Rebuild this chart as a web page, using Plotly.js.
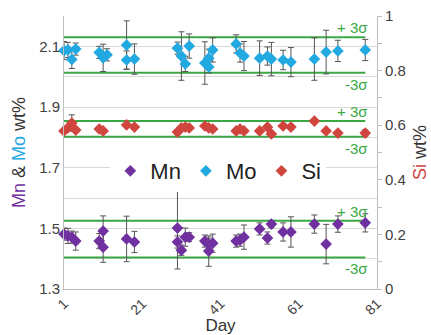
<!DOCTYPE html>
<html>
<head>
<meta charset="utf-8">
<script src="https://cdn.plot.ly/plotly-3.0.1.min.js"></script>
<style>html,body{margin:0;padding:0;background:#fff}#chart{width:431px;height:335px}</style>
</head>
<body>
<div id="chart"></div>
<script>
// Mn (left axis, wt%)
const mnDay = [1,2,3,4,10,11,11,17,19,30,30,31,32,33,37,38,38,39,45,46,47,51,53,54,57,59,65,68,71,78];
const mnVal = [1.481,1.475,1.471,1.458,1.458,1.491,1.438,1.465,1.455,1.501,1.455,1.428,1.471,1.471,1.458,1.448,1.425,1.451,1.458,1.461,1.471,1.498,1.468,1.514,1.488,1.488,1.514,1.448,1.514,1.518];
const mnErr = [0.02,0.025,0.02,0.03,0.025,0.05,0.05,0.075,0.035,0.135,0.02,0.017,0.03,0.015,0.02,0.02,0.05,0.03,0.02,0.02,0.04,0.02,0.02,0.012,0.03,0.05,0.03,0.065,0.027,0.03];
// Mo (left axis, wt%)
const moDay = [1,2,3,4,10,11,12,17,17,19,30,31,32,33,37,38,38,39,45,46,47,51,53,54,57,59,65,68,71,78];
const moVal = [2.086,2.088,2.057,2.091,2.080,2.062,2.072,2.104,2.055,2.058,2.094,2.068,2.042,2.101,2.045,2.032,2.061,2.088,2.108,2.078,2.068,2.061,2.068,2.058,2.055,2.048,2.058,2.081,2.085,2.088];
const moErr = [0.03,0.025,0.03,0.02,0.02,0.045,0.02,0.08,0.03,0.05,0.02,0.08,0.025,0.04,0.07,0.02,0.03,0.04,0.03,0.03,0.048,0.057,0.03,0.055,0.032,0.048,0.07,0.072,0.035,0.035];
// Si (right axis, wt%)
const siDay = [1,2,3,4,10,11,17,19,30,31,32,33,37,38,39,45,46,47,51,53,54,57,59,65,68,71,78];
const siVal = [0.579,0.590,0.608,0.582,0.586,0.579,0.601,0.593,0.575,0.590,0.593,0.590,0.597,0.590,0.586,0.579,0.586,0.579,0.579,0.593,0.568,0.597,0.593,0.615,0.579,0.571,0.571];
const siErr = [0.005,0.005,0.03,0.005,0.005,0.005,0.006,0.005,0.005,0.005,0.005,0.005,0.005,0.005,0.005,0.005,0.005,0.005,0.005,0.005,0.005,0.005,0.005,0.006,0.005,0.005,0.012];
// control limits (+3σ / -3σ)
const limitDays = [1, 78];
const moLimits = [2.130, 2.013];
const siLimits = [0.615, 0.558];
const mnLimits = [1.525, 1.404];
const limitLabels = ['+ 3σ', '-3σ'];
// axis ticks
const dayTicks = [1, 21, 41, 61, 81];
const leftTickVals = [1.3,1.4,1.5,1.6,1.7,1.8,1.9,2.0,2.1,2.2];
const leftTickText = ['1.3','','1.5','','1.7','','1.9','','2.1',''];
const rightTickVals = [0,0.1,0.2,0.3,0.4,0.5,0.6,0.7,0.8,0.9,1];
const rightTickText = ['0','','0.2','','0.4','','0.6','','0.8','','1'];

const C_MN = '#7030a0', C_MO = '#22a9e1', C_SI = '#d0463f', C_G = '#3aa845';
const FONT = 'Liberation Sans, Arial, sans-serif';

function pts(name, x, y, e, color, yaxis) {
  return {type:'scatter', mode:'markers', name:name, x:x, y:y, yaxis:yaxis, cliponaxis:false,
    marker:{symbol:'diamond', size:9, color:color},
    error_y:{type:'data', array:e, visible:true, color:'#555555', thickness:1, width:3}};
}
function limLine(v, yaxis) {
  return {type:'scatter', mode:'lines', x:limitDays, y:[v, v], yaxis:yaxis, showlegend:false,
    hoverinfo:'skip', line:{color:C_G, width:2}};
}
const traces = [
  limLine(moLimits[0],'y'), limLine(moLimits[1],'y'),
  limLine(mnLimits[0],'y'), limLine(mnLimits[1],'y'),
  limLine(siLimits[0],'y2'), limLine(siLimits[1],'y2'),
  pts('Mn', mnDay, mnVal, mnErr, C_MN, 'y'),
  pts('Mo', moDay, moVal, moErr, C_MO, 'y'),
  pts('Si', siDay, siVal, siErr, C_SI, 'y2')
];
const annotations = [];
[[moLimits,'y'],[siLimits,'y2'],[mnLimits,'y']].forEach(([lim, yr]) => {
  annotations.push({x:limitDays[1], y:lim[0], xref:'x', yref:yr, text:limitLabels[0], showarrow:false,
    xanchor:'right', yanchor:'bottom', xshift:5, yshift:-1, font:{family:FONT, size:15, color:C_G}});
  annotations.push({x:limitDays[1], y:lim[1], xref:'x', yref:yr, text:limitLabels[1], showarrow:false,
    xanchor:'right', yanchor:'top', xshift:5, yshift:-1, font:{family:FONT, size:15, color:C_G}});
});
const layout = {
  width:431, height:335, margin:{l:64, r:54, t:16, b:46},
  paper_bgcolor:'#fff', plot_bgcolor:'#fff',
  font:{family:FONT, color:'#404040'},
  showlegend:true,
  legend:{orientation:'h', x:0.148, y:0.432, xanchor:'left', yanchor:'middle', bgcolor:'#fff',
    font:{family:FONT, size:22, color:'#222'}, itemclick:false},
  xaxis:{range:[1,81], tickvals:dayTicks, tickangle:-45, showgrid:false, zeroline:false,
    showline:true, linecolor:'#bfbfbf', ticks:'', tickfont:{size:14, color:'#404040'},
    title:{text:'Day', font:{size:17, color:'#333'}, standoff:2}},
  yaxis:{range:[1.3,2.2], tickvals:leftTickVals, ticktext:leftTickText, showgrid:true, gridcolor:'#d9d9d9',
    zeroline:false, showline:true, linecolor:'#bfbfbf', ticks:'', tickfont:{size:15, color:'#404040'},
    title:{text:'<span style="color:'+C_MN+'">Mn</span> & <span style="color:'+C_MO+'">Mo</span> wt%', font:{size:18, color:'#333'}, standoff:8}},
  yaxis2:{range:[0,1], overlaying:'y', side:'right', tickvals:rightTickVals, ticktext:rightTickText,
    showgrid:false, zeroline:false, showline:true, linecolor:'#bfbfbf', ticks:'outside', ticklen:4,
    tickcolor:'#bfbfbf', tickfont:{size:15, color:'#404040'},
    title:{text:'<span style="color:'+C_SI+'">Si</span> wt%', font:{size:18, color:'#333'}, standoff:8}},
  annotations:annotations
};
Plotly.newPlot('chart', traces, layout, {displayModeBar:false, staticPlot:true});
</script>
</body>
</html>
